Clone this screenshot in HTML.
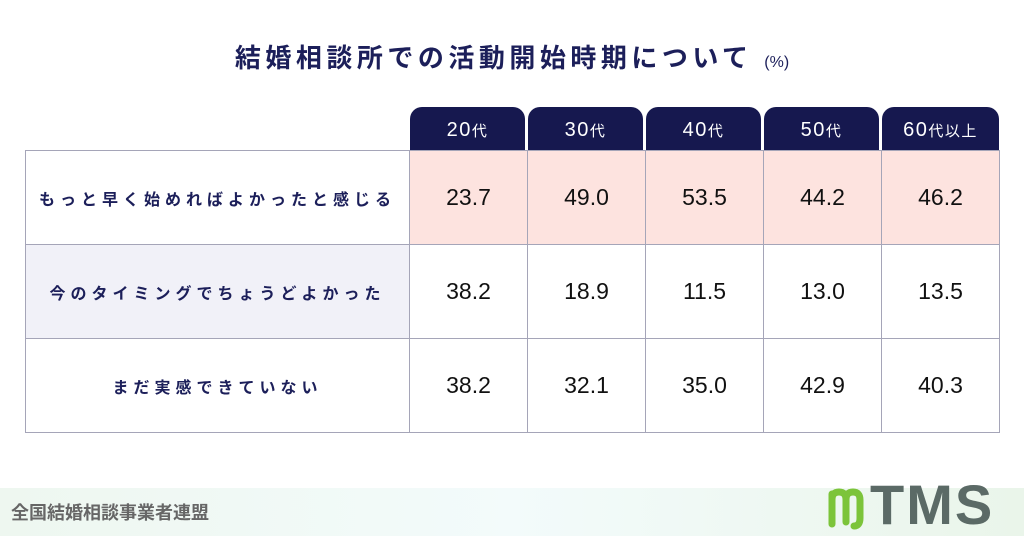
<!DOCTYPE html>
<html><head><meta charset="utf-8"><style>
body{margin:0;width:1024px;height:536px;background:#fff;position:relative;overflow:hidden;font-family:"Liberation Sans","Noto Sans CJK JP",sans-serif}
.t{position:absolute;top:38px;left:0;width:1024px;text-align:center;font-size:26px;font-weight:bold;color:#1c1f5a;letter-spacing:4.5px}
.t small{font-size:16px;font-weight:normal;letter-spacing:0}
.h{position:absolute;top:107px;height:43px;background:#16184f;border-radius:12px 12px 0 0;color:#fff;font-size:20px;text-align:center;line-height:46px;letter-spacing:1.5px}
.h small{font-size:15px}
.c{position:absolute;box-sizing:border-box;border:1px solid #a5a5b8;display:flex;align-items:center;justify-content:center;font-size:23px;color:#111}
.l{font-size:16px;font-weight:bold;color:#1c1f5a;letter-spacing:5px}
.f{position:absolute;left:0;top:488px;width:1024px;height:48px;background:linear-gradient(90deg,#eef7f0,#f3fbfb 50%,#eaf5ea)}
</style></head><body>
<div class="t">結婚相談所での活動開始時期について <small>(%)</small></div>
<div class="h" style="left:410px;width:115px">20<small>代</small></div>
<div class="h" style="left:528px;width:115px">30<small>代</small></div>
<div class="h" style="left:646px;width:115px">40<small>代</small></div>
<div class="h" style="left:764px;width:115px">50<small>代</small></div>
<div class="h" style="left:882px;width:117px">60<small>代以上</small></div>

<div class="c l" style="left:25px;top:150px;width:385px;height:95px">もっと早く始めればよかったと感じる</div>
<div class="c l" style="left:25px;top:244px;width:385px;height:95px;background:#f1f1f8">今のタイミングでちょうどよかった</div>
<div class="c l" style="left:25px;top:338px;width:385px;height:95px">まだ実感できていない</div>

<div class="c" style="left:409px;top:150px;width:119px;height:95px;background:#fde3df">23.7</div>
<div class="c" style="left:527px;top:150px;width:119px;height:95px;background:#fde3df">49.0</div>
<div class="c" style="left:645px;top:150px;width:119px;height:95px;background:#fde3df">53.5</div>
<div class="c" style="left:763px;top:150px;width:119px;height:95px;background:#fde3df">44.2</div>
<div class="c" style="left:881px;top:150px;width:119px;height:95px;background:#fde3df">46.2</div>

<div class="c" style="left:409px;top:244px;width:119px;height:95px">38.2</div>
<div class="c" style="left:527px;top:244px;width:119px;height:95px">18.9</div>
<div class="c" style="left:645px;top:244px;width:119px;height:95px">11.5</div>
<div class="c" style="left:763px;top:244px;width:119px;height:95px">13.0</div>
<div class="c" style="left:881px;top:244px;width:119px;height:95px">13.5</div>

<div class="c" style="left:409px;top:338px;width:119px;height:95px">38.2</div>
<div class="c" style="left:527px;top:338px;width:119px;height:95px">32.1</div>
<div class="c" style="left:645px;top:338px;width:119px;height:95px">35.0</div>
<div class="c" style="left:763px;top:338px;width:119px;height:95px">42.9</div>
<div class="c" style="left:881px;top:338px;width:119px;height:95px">40.3</div>

<div class="f"></div>
<div style="position:absolute;left:11px;top:499px;font-size:18px;font-weight:bold;color:#666;">全国結婚相談事業者連盟</div>
<svg style="position:absolute;left:826px;top:484px" width="40" height="48" viewBox="0 0 40 48">
<path d="M6 10 V40 M6 16 Q6 8 13 8 Q20 8 20 16 V38 M20 16 Q20 8 27 8 Q34 8 34 16 V34 Q34 42 28 42" stroke="#7cc43a" stroke-width="7" fill="none" stroke-linecap="round"/></svg>
<div style="position:absolute;left:870px;top:475px;font-size:56px;font-weight:bold;color:#5b6a66;letter-spacing:2px;line-height:60px">TMS</div>
</body></html>
